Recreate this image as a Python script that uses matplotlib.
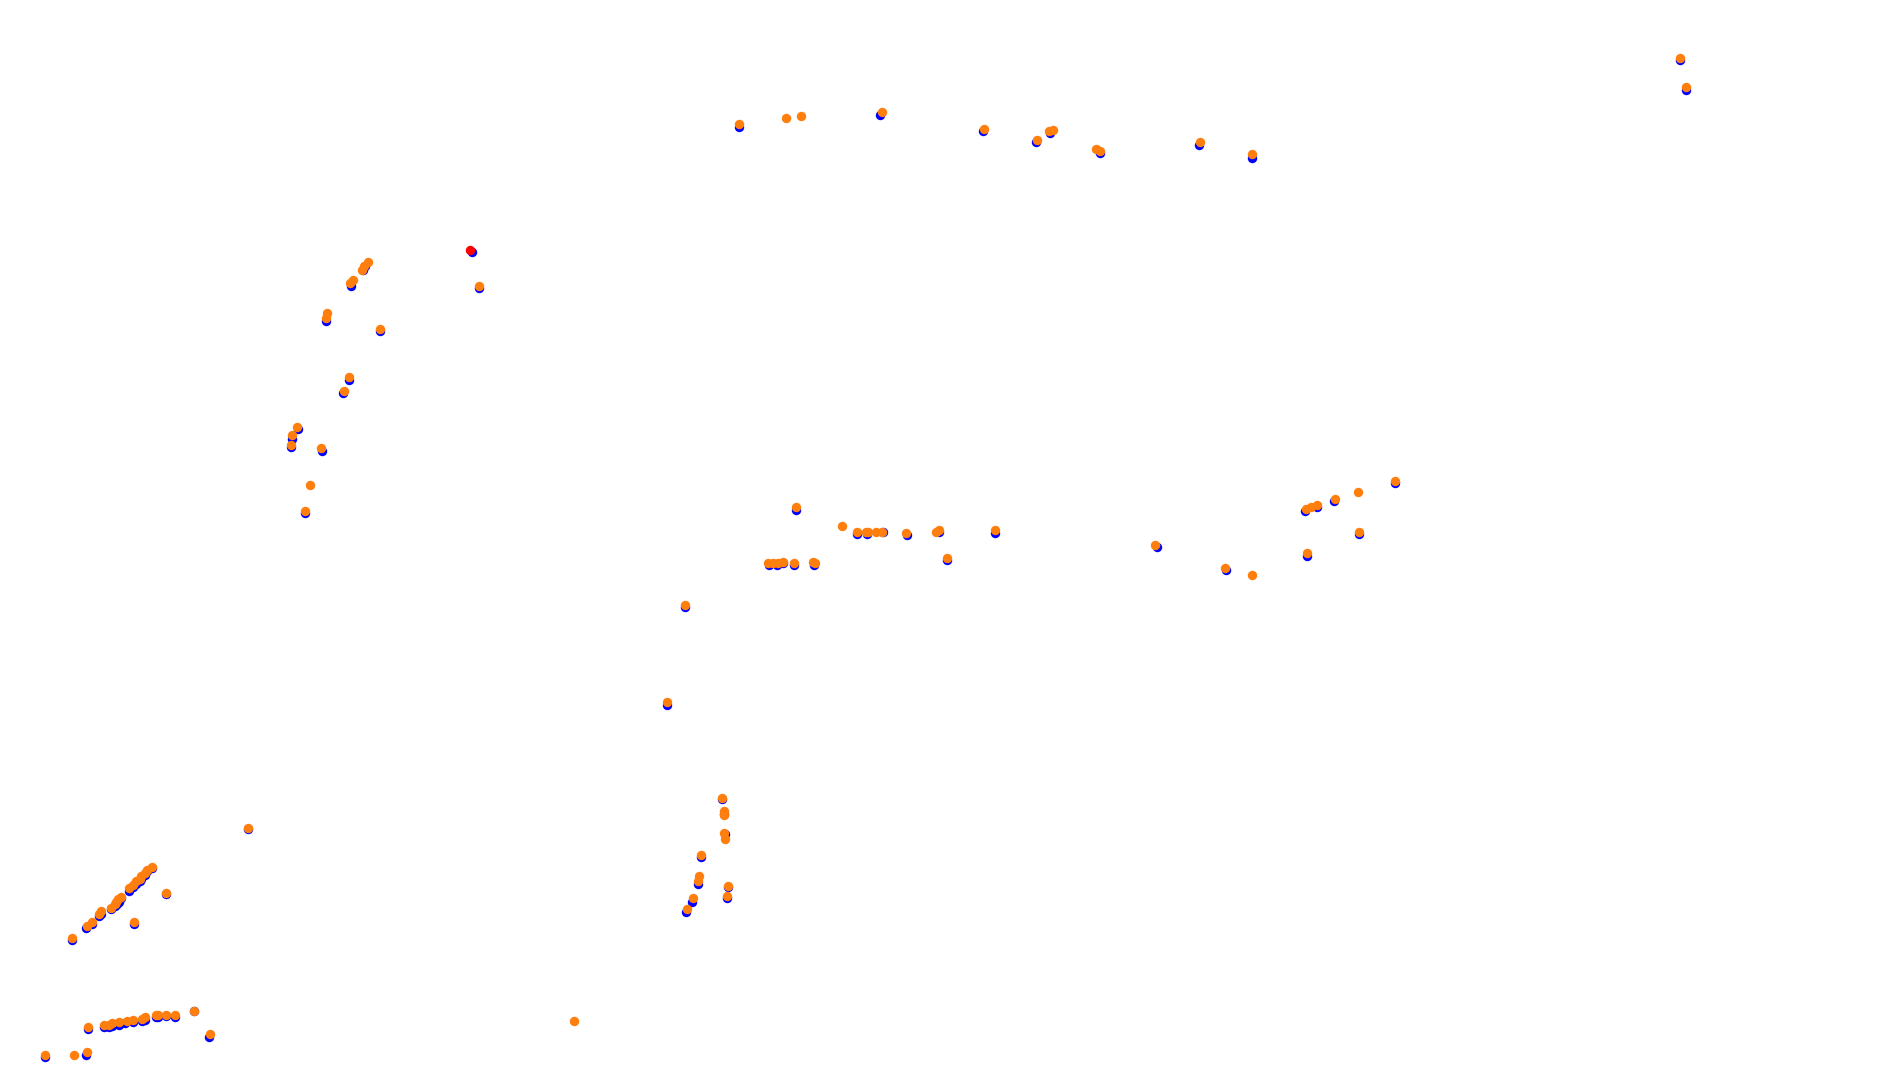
import matplotlib
matplotlib.use("Agg")
import matplotlib.pyplot as plt

# positions (image pixels of the 1568x901 view, y down)
blue_x = [613, 730, 815, 859, 871, 912, 994, 1038, 1393, 1398,
          391, 397,
          301, 303, 291, 270, 315, 289, 284, 247, 242, 241, 267, 253,
          660, 568, 553,
          711, 719, 732, 752, 779, 825, 785,
          638, 644, 649, 658, 675,
          959, 1017, 1084, 1082, 1092, 1106, 1157, 1127,
          599, 600, 601, 581, 579, 604, 603, 574, 569,
          206,
          60, 71, 76, 82, 84, 92, 95, 97, 99, 100, 107, 110, 113, 116, 117, 120, 122, 126, 138, 111,
          73, 86, 90, 93, 99, 104, 110, 118, 120, 129, 131, 138, 145, 161, 173, 37, 71]
blue_y = [105, 95, 109, 118, 110, 127, 120, 131, 50, 75,
          209, 239,
          224, 221, 237, 266, 275, 315, 326, 356, 364, 371, 374, 426,
          423, 504, 585,
          443, 443, 441, 444, 441, 442, 465,
          469, 469, 467, 469, 469,
          454, 473, 461, 424, 421, 416, 401, 443,
          663, 675, 692, 711, 733, 736, 745, 748, 757,
          688,
          780, 770, 767, 760, 758, 754, 752, 750, 748, 745, 739, 736, 733, 731, 729, 726, 723, 720, 742, 767,
          854, 852, 852, 851, 850, 849, 848, 847, 846, 844, 844, 843, 844, 839, 860, 877, 875]

orange_x = [613, 652, 664, 731, 816, 860, 870, 873, 909, 912, 995, 1038, 1393, 1398,
            397,
            305, 302, 300, 293, 290, 271, 270, 315, 289, 285, 246, 242, 241, 266, 257, 253,
            660, 568, 553, 698,
            711, 718, 720, 726, 731, 751, 776, 779, 825, 785,
            637, 641, 645, 649, 658, 674, 676,
            958, 1016, 1038, 1084, 1083, 1087, 1092, 1107, 1126, 1157, 1127,
            599, 600, 600, 600, 601, 581, 580, 579, 604, 603, 575, 570,
            206, 476,
            60, 72, 76, 82, 84, 92, 95, 96, 98, 100, 107, 110, 113, 116, 117, 120, 122, 126, 138, 111,
            73, 86, 90, 93, 99, 105, 110, 118, 120, 129, 131, 138, 145, 161, 174, 37, 61, 72]
orange_y = [103, 98, 96, 93, 107, 116, 109, 108, 124, 125, 118, 128, 48, 72,
            237,
            217, 221, 224, 232, 235, 260, 264, 273, 313, 324, 354, 361, 369, 372, 402, 424,
            421, 502, 582, 436,
            441, 441, 441, 441, 441, 442, 441, 440, 440, 463,
            467, 467, 467, 466, 467, 466, 467,
            452, 471, 477, 459, 422, 421, 419, 414, 408, 399, 441,
            662, 673, 676, 691, 696, 709, 727, 731, 735, 743, 745, 754,
            687, 847,
            778, 768, 765, 758, 756, 753, 750, 748, 746, 744, 737, 734, 731, 729, 727, 724, 722, 719, 741, 765,
            852, 850, 850, 849, 848, 847, 846, 845, 844, 842, 842, 842, 842, 839, 858, 875, 875, 873]

red_x = [390]
red_y = [207]

fig = plt.figure(figsize=(18.91, 10.86), dpi=100)
ax = fig.add_axes([0, 0, 1, 1])
ax.scatter(blue_x, blue_y, s=46, color="blue", linewidths=0)
ax.scatter(orange_x, orange_y, s=46, color="#ff7f0e", linewidths=0)
ax.scatter(red_x, red_y, s=46, color="red", linewidths=0)
ax.set_xlim(0, 1568)
ax.set_ylim(901, 0)
ax.axis("off")
fig.savefig("out.png", dpi=100, facecolor="white")
